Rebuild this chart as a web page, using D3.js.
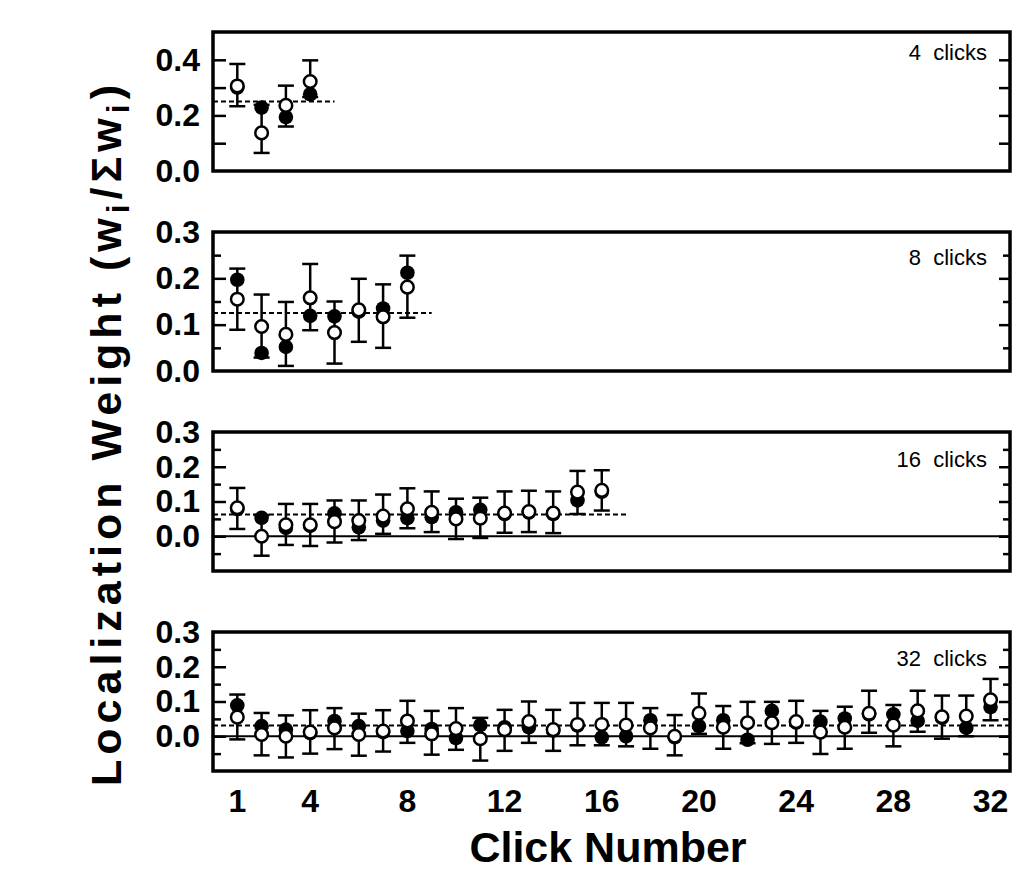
<!DOCTYPE html>
<html lang="en">
<head>
<meta charset="utf-8">
<title>Localization Weight by Click Number</title>
<script src="https://cdn.jsdelivr.net/npm/d3@7"></script>
<style>
  body { margin: 0; background: #fff; }
  svg { display: block; font-family: "Liberation Sans", Arial, sans-serif; }
  .click-label { white-space: pre; }
</style>
</head>
<body>
<svg width="1014" height="880"></svg>
<script>
// clicks per train, one panel each
var clicks = [4, 8, 16, 32];
var xTickLabels = [1, 4, 8, 12, 16, 20, 24, 28, 32];

// filled symbols / open symbols, with one-sided error (upper point up, lower point down)
var filled4    = [0.300, 0.228, 0.194, 0.276];
var filledErr4 = [0.067, 0.010, 0.034, 0.010];
var open4      = [0.306, 0.137, 0.236, 0.322];
var openErr4   = [0.079, 0.072, 0.071, 0.076];

var filled8    = [0.197, 0.039, 0.052, 0.119, 0.118, 0.128, 0.135, 0.212];
var filledErr8 = [0.024, 0.010, 0.041, 0.031, 0.032, 0.065, 0.052, 0.037];
var open8      = [0.155, 0.096, 0.079, 0.158, 0.083, 0.132, 0.117, 0.181];
var openErr8   = [0.066, 0.069, 0.070, 0.073, 0.067, 0.067, 0.067, 0.066];

var filled16    = [0.078, 0.053, 0.024, 0.030, 0.066, 0.026, 0.045, 0.052,
                   0.055, 0.069, 0.076, 0.064, 0.068, 0.064, 0.103, 0.128];
var filledErr16 = [0.057, 0.008, 0.049, 0.058, 0.037, 0.037, 0.038, 0.029,
                   0.043, 0.039, 0.035, 0.054, 0.056, 0.055, 0.039, 0.054];
var open16      = [0.082, 0.000, 0.033, 0.033, 0.042, 0.045, 0.058, 0.079,
                   0.069, 0.050, 0.052, 0.067, 0.071, 0.067, 0.127, 0.132];
var openErr16   = [0.057, 0.056, 0.060, 0.060, 0.060, 0.058, 0.062, 0.059,
                   0.060, 0.058, 0.057, 0.062, 0.060, 0.062, 0.061, 0.058];

var filled32    = [0.089, 0.029, 0.019, 0.009, 0.044, 0.029, 0.012, 0.015,
                   0.021, -0.005, 0.032, 0.026, 0.026, 0.016, 0.031, -0.003,
                   0.000, 0.046, -0.003, 0.029, 0.046, -0.010, 0.073, 0.039,
                   0.042, 0.051, 0.063, 0.063, 0.044, 0.053, 0.024, 0.084];
var filledErr32 = [0.031, 0.038, 0.041, 0.059, 0.037, 0.036, 0.056, 0.034,
                   0.052, 0.034, 0.021, 0.050, 0.045, 0.058, 0.057, 0.023,
                   0.029, 0.035, 0.052, 0.022, 0.041, 0.010, 0.026, 0.058,
                   0.031, 0.034, 0.053, 0.027, 0.031, 0.060, 0.024, 0.038];
var open32      = [0.055, 0.005, 0.000, 0.012, 0.024, 0.005, 0.015, 0.044,
                   0.007, 0.022, -0.007, 0.019, 0.042, 0.019, 0.034, 0.034,
                   0.032, 0.024, 0.000, 0.066, 0.026, 0.039, 0.039, 0.042,
                   0.012, 0.026, 0.066, 0.032, 0.073, 0.056, 0.058, 0.105];
var openErr32   = [0.064, 0.060, 0.061, 0.063, 0.061, 0.061, 0.060, 0.058,
                   0.060, 0.059, 0.063, 0.061, 0.058, 0.057, 0.062, 0.062,
                   0.064, 0.060, 0.061, 0.057, 0.062, 0.060, 0.061, 0.060,
                   0.063, 0.062, 0.065, 0.061, 0.058, 0.061, 0.059, 0.060];

var yLabels4 = [0.0, 0.2, 0.4];
var yLabels = [0.0, 0.1, 0.2, 0.3];

var panels = [
  {n: clicks[0], filled: filled4, filledErr: filledErr4, open: open4, openErr: openErr4,
   domain: [0, 0.5], labels: yLabels4, major: [0.1, 0.2, 0.3, 0.4], minor: []},
  {n: clicks[1], filled: filled8, filledErr: filledErr8, open: open8, openErr: openErr8,
   domain: [0, 0.3], labels: yLabels, major: [0.1, 0.2], minor: [0.05, 0.15, 0.25]},
  {n: clicks[2], filled: filled16, filledErr: filledErr16, open: open16, openErr: openErr16,
   domain: [-0.1, 0.3], labels: yLabels, major: [0, 0.1, 0.2], minor: [-0.05, 0.05, 0.15, 0.25]},
  {n: clicks[3], filled: filled32, filledErr: filledErr32, open: open32, openErr: openErr32,
   domain: [-0.1, 0.3], labels: yLabels, major: [0, 0.1, 0.2], minor: [-0.05, 0.05, 0.15, 0.25]}
];

var svg = d3.select("svg");
svg.append("rect").attr("width", 1014).attr("height", 880).attr("fill", "#fff");

var left = 213, right = 1010, panelH = 139;
var tops = [32, 232, 432, 632];
var labelDy = [28, 33, 35, 34];

var x = d3.scaleLinear().domain([0, 32.8]).range([left, right]);
var fmt = d3.format(".1f");

panels.forEach(function(p, k) {
  var top = tops[k];
  var y = d3.scaleLinear().domain(p.domain).range([top + panelH, top]);
  var g = svg.append("g");

  // expected weight 1/n (dashed) and zero line
  if (p.domain[0] < 0) {
    g.append("line")
        .attr("x1", left).attr("x2", right)
        .attr("y1", y(0)).attr("y2", y(0))
        .attr("stroke", "#000").attr("stroke-width", 2);
  }
  g.append("line")
      .attr("x1", x(0)).attr("x2", x(Math.min(p.n + 1, 32.8)))
      .attr("y1", y(1 / p.n)).attr("y2", y(1 / p.n))
      .attr("stroke", "#000").attr("stroke-width", 2)
      .attr("stroke-dasharray", "5,3");

  var pts = p.filled.map(function(f, i) {
    var o = p.open[i];
    var hi, lo;
    if (o >= f) { hi = o + p.openErr[i]; lo = f - p.filledErr[i]; }
    else { hi = f + p.filledErr[i]; lo = o - p.openErr[i]; }
    return {click: i + 1, f: f, o: o, hi: hi, lo: lo};
  });

  // error bars
  var bars = g.selectAll(".bar").data(pts).enter().append("g")
      .attr("stroke", "#000").attr("stroke-width", 2.5);
  bars.append("line")
      .attr("x1", function(d) { return x(d.click); })
      .attr("x2", function(d) { return x(d.click); })
      .attr("y1", function(d) { return y(d.hi); })
      .attr("y2", function(d) { return y(d.lo); });
  ["hi", "lo"].forEach(function(key) {
    bars.append("line")
        .attr("x1", function(d) { return x(d.click) - 8; })
        .attr("x2", function(d) { return x(d.click) + 8; })
        .attr("y1", function(d) { return y(d[key]); })
        .attr("y2", function(d) { return y(d[key]); });
  });

  g.selectAll(".filled").data(pts).enter().append("circle")
      .attr("cx", function(d) { return x(d.click); })
      .attr("cy", function(d) { return y(d.f); })
      .attr("r", 7.3)
      .attr("fill", "#000");

  g.selectAll(".open").data(pts).enter().append("circle")
      .attr("cx", function(d) { return x(d.click); })
      .attr("cy", function(d) { return y(d.o); })
      .attr("r", 6.3)
      .attr("fill", "#fff")
      .attr("stroke", "#000")
      .attr("stroke-width", 2.5);

  // inward ticks on both sides
  [[d3.axisRight, left, 13, p.major], [d3.axisRight, left, 8, p.minor],
   [d3.axisLeft, right, 11, p.major], [d3.axisLeft, right, 7, p.minor]].forEach(function(a) {
    var ax = g.append("g")
        .attr("transform", "translate(" + a[1] + ",0)")
        .call(a[0](y).tickValues(a[3]).tickSize(a[2]).tickFormat(""));
    ax.select(".domain").remove();
    ax.selectAll("line").attr("stroke-width", 2.5);
  });

  // tick labels
  var lab = g.append("g")
      .attr("transform", "translate(" + left + ",0)")
      .call(d3.axisLeft(y).tickValues(p.labels).tickSize(0).tickPadding(13).tickFormat(fmt));
  lab.select(".domain").remove();
  lab.selectAll("text")
      .attr("font-size", 32).attr("font-weight", "bold")
      .attr("font-family", "Liberation Sans, Arial, sans-serif")
      .attr("fill", "#000");

  g.append("text")
      .attr("class", "click-label")
      .attr("x", 987).attr("y", top + labelDy[k])
      .attr("text-anchor", "end")
      .attr("font-size", 22)
      .text(p.n + "  clicks");

  g.append("rect")
      .attr("x", left).attr("y", top)
      .attr("width", right - left).attr("height", panelH)
      .attr("fill", "none").attr("stroke", "#000").attr("stroke-width", 3.5);
});

// x tick labels under the last panel
svg.append("g").selectAll("text").data(xTickLabels).enter().append("text")
    .attr("x", function(d) { return x(d); })
    .attr("y", 812)
    .attr("text-anchor", "middle")
    .attr("font-size", 32).attr("font-weight", "bold")
    .text(function(d) { return d; });

svg.append("text")
    .attr("x", 608).attr("y", 862)
    .attr("text-anchor", "middle")
    .attr("font-size", 43).attr("font-weight", "bold")
    .text("Click Number");

var yt = svg.append("text")
    .attr("transform", "translate(121,433) rotate(-90)")
    .attr("text-anchor", "middle")
    .attr("font-size", 43).attr("font-weight", "bold")
    .attr("letter-spacing", 5);
yt.append("tspan").text("Localization Weight (w");
yt.append("tspan").attr("dy", 8).attr("font-size", 32).text("i");
yt.append("tspan").attr("dy", -8).text("/\u03A3w");
yt.append("tspan").attr("dy", 8).attr("font-size", 32).text("i");
yt.append("tspan").attr("dy", -8).text(")");
</script>
</body>
</html>
